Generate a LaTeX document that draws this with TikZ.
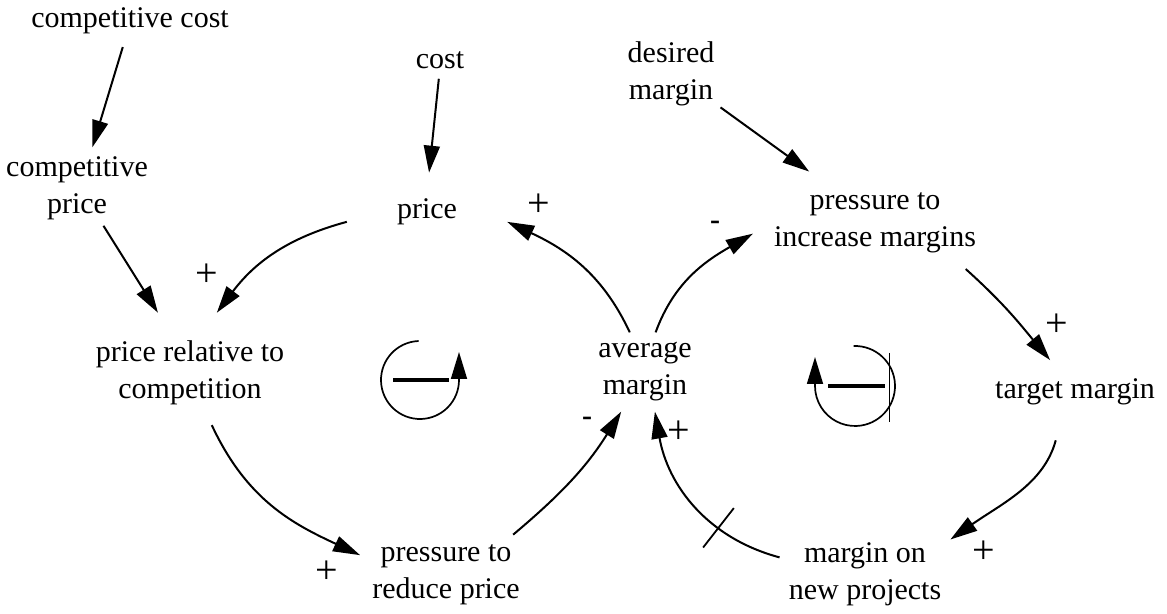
\documentclass[tikz,border=0pt]{standalone}
\usepackage{fontspec}
\setmainfont{Liberation Serif}
\usetikzlibrary{arrows.meta}
\begin{document}
\begin{tikzpicture}[x=1pt,y=1pt,
  var/.style={font=\fontsize{30}{37}\selectfont, align=center, inner xsep=6pt, inner ysep=6pt},
  link/.style={line width=2pt, -{Triangle[length=27pt,width=16pt]}},
  pol/.style={font=\fontsize{40}{40}\selectfont, inner sep=0pt},
  neg/.style={font=\fontsize{30}{30}\selectfont\bfseries, inner sep=0pt},
  loopline/.style={line width=1.7pt},
  loopbar/.style={line width=3.2pt},
  looptip/.style={line width=1.7pt, -{Triangle[length=27pt,width=16pt]}},
  tick/.style={draw, line width=1.8pt, minimum width=0pt, minimum height=50pt, inner sep=0pt}
]
\useasboundingbox (0,0) rectangle (1167,613);

% variables
\node[var] (cc) at (130,592) {competitive cost};
\node[var] (cp) at (77,425) {competitive\\price};
\node[var] (cost) at (440,553) {cost};
\node[var, inner xsep=50pt, inner ysep=26pt] (price) at (427,401) {price};
\node[var] (dm) at (671,539) {desired\\margin};
\node[var, inner xsep=21pt, inner ysep=21pt] (pim) at (875,390) {pressure to\\increase margins};
\node[var, inner ysep=28pt] (prc) at (190,240) {price relative to\\competition};
\node[var, inner ysep=10pt] (am) at (645,241) {average\\margin};
\node[var, inner ysep=18.5pt] (tm) at (1075,221) {target margin};
\node[var, inner xsep=12pt, inner ysep=10pt] (prp) at (446,38) {pressure to\\reduce price};
\node[var, inner xsep=9pt] (mnp) at (865,39) {margin on\\new projects};

% straight links
\draw[link, shorten <=7pt, shorten >=3pt] (cc.-105) -- (cp.69);
\draw[link] (cp.-55) -- (prc.118);
\draw[link, shorten <=4pt] (cost.-93) -- (price.87);
\draw[link] (dm.-34) -- (pim.142);

% curved links
\draw[link] (price.187) to[out=195,in=53] (prc.66);
\draw[link, shorten <=-9pt] (prc.-67) to[out=-65,in=155] (prp.167);
\draw[link] (prp.31) to[out=40,in=-122] (am.-121);
\draw[link] (mnp.169) to[out=165,in=-80] node[pos=0.33, sloped, tick] (delay) {} (am.-76);
\draw[link] (am.111) to[out=115,in=-25] (price.-7);
\draw[link] (am.75) to[out=70,in=-150] (pim.185);
\draw[link, shorten <=-8pt] (pim.-28) to[out=-42,in=130] (tm.128);
\draw[link, shorten <=17pt] (tm.-115) to[out=-105,in=35] (mnp.22);

% polarities
\node[pol] (s1) at (207,338) {+};
\node[pol] (s2) at (539,408) {+};
\node[neg] (s3) at (715,388) {-};
\node[pol] (s4) at (1057,288) {+};
\node[pol] (s5) at (327,41) {+};
\node[neg] (s6) at (587,192) {-};
\node[pol] (s7) at (679,181) {+};
\node[pol] (s8) at (984,61) {+};

% loop icons
\coordinate (L) at (420,233);
\draw[loopline] (L) ++(92:39) arc[start angle=92,end angle=360,radius=39];
\draw[looptip] (L) ++(39,-1) -- ++(0,29);
\draw[loopbar] (L) ++(-27,0) -- ++(56,0);

\coordinate (R) at (855,227);
\draw[loopline] (R) ++(92:40) arc[start angle=92,end angle=-180,radius=40];
\draw[looptip] (R) ++(-40,-1) -- ++(0,30);
\draw[loopbar] (R) ++(-27,0) -- ++(57,0);
\draw[line width=0.9pt] (R) ++(34,33) -- ++(0,-69);
\end{tikzpicture}
\end{document}
